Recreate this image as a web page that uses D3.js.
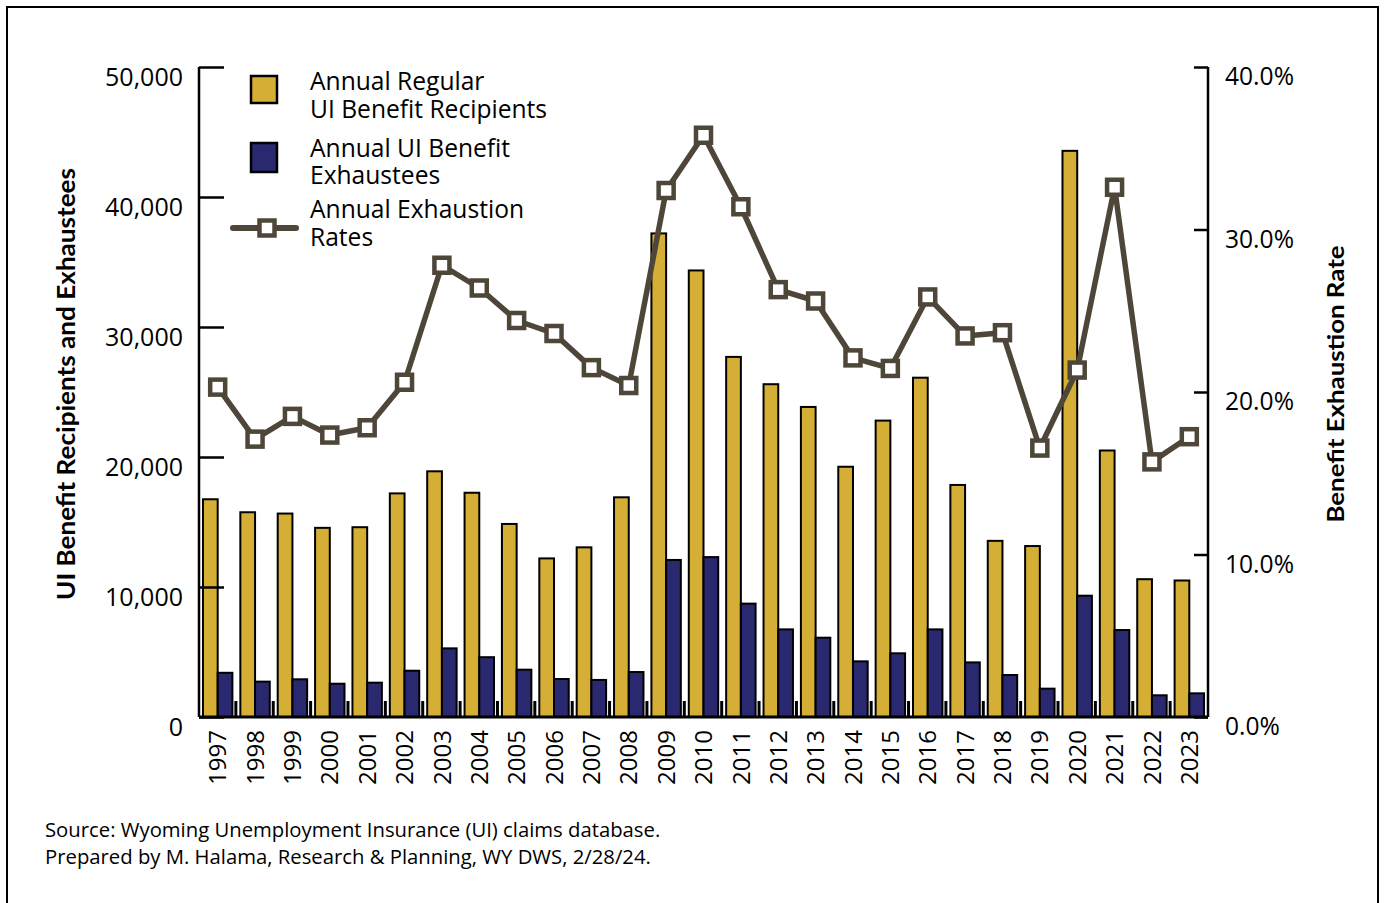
<!DOCTYPE html>
<html>
<head>
<meta charset="utf-8">
<script src="https://d3js.org/d3.v7.min.js"></script>
<style>
body{margin:0;background:#fff;}
text{font-family:"Open Sans",sans-serif;fill:#000;}
</style>
</head>
<body>
<div id="chart"></div>
<script>
// chart data
var years=["1997","1998","1999","2000","2001","2002","2003","2004","2005","2006","2007","2008","2009",
"2010","2011","2012","2013","2014","2015","2016","2017","2018","2019","2020","2021","2022","2023"];
var recipients=[16750,15750,15650,14550,14600,17200,18900,17250,14850,12200,13050,16900,37200,
34350,27700,25600,23850,19250,22800,26100,17850,13550,13150,43550,20500,10600,10500];
var exhaustees=[3400,2720,2900,2560,2640,3560,5280,4600,3640,2920,2850,3460,12080,
12300,8720,6740,6100,4280,4900,6740,4200,3230,2180,9330,6690,1670,1820];
var rates=[20.3,17.1,18.5,17.35,17.8,20.6,27.8,26.4,24.4,23.6,21.5,20.4,32.4,
35.8,31.4,26.3,25.6,22.1,21.45,25.85,23.45,23.65,16.55,21.35,32.6,15.7,17.25];
var leftTicks=[0,10000,20000,30000,40000,50000];
var rightTicks=[0,10,20,30,40];
var legendItems=[["Annual Regular","UI Benefit Recipients"],["Annual UI Benefit","Exhaustees"],["Annual Exhaustion","Rates"]];

var W=1385,H=903;
var gold="#D5AE36",navy="#2A286E",lineCol="#4E4639";
var plotL=199,plotR=1208,plotT=67,plotB=717;

var svg=d3.select("#chart").append("svg").attr("width",W).attr("height",H);

// frame
svg.append("rect").attr("x",7).attr("y",7).attr("width",1371).attr("height",1000)
  .attr("fill","none").attr("stroke","#000").attr("stroke-width",2);

var x0=d3.scaleBand().domain(years).range([plotL,plotR]).padding(0);
var x1=d3.scaleBand().domain(["rec","exh"]).range([0,x0.bandwidth()]).paddingInner(0).paddingOuter(0.27);
var yL=d3.scaleLinear().domain([0,50000]).range([plotB,plotT]);
var yR=d3.scaleLinear().domain([0,40]).range([plotB,plotT]);

// bars
var grp=svg.append("g").selectAll("g").data(years).enter().append("g")
  .attr("transform",function(d){return "translate("+x0(d)+",0)";});
grp.append("rect")
  .attr("x",x1("rec")).attr("width",x1.bandwidth())
  .attr("y",function(d,i){return yL(recipients[i]);})
  .attr("height",function(d,i){return plotB-yL(recipients[i]);})
  .attr("fill",gold).attr("stroke","#000").attr("stroke-width",2);
grp.append("rect")
  .attr("x",x1("exh")).attr("width",x1.bandwidth())
  .attr("y",function(d,i){return yL(exhaustees[i]);})
  .attr("height",function(d,i){return plotB-yL(exhaustees[i]);})
  .attr("fill",navy).attr("stroke","#000").attr("stroke-width",2);

// left axis
var axL=svg.append("g").attr("transform","translate("+plotL+",0)")
  .call(d3.axisLeft(yL).tickValues(leftTicks).tickSize(-25).tickSizeOuter(0).tickPadding(16)
  .tickFormat(d3.format(",")));
axL.selectAll("path,line").attr("stroke","#000").attr("stroke-width",2.5);
axL.select(".domain").attr("d","M0,"+plotT+"V"+plotB);
axL.selectAll("text").attr("dy","0.72em").style("font-size","25px").style("font-family","Open Sans");

// right axis
var axR=svg.append("g").attr("transform","translate("+plotR+",0)")
  .call(d3.axisRight(yR).tickValues(rightTicks).tickSize(-14).tickSizeOuter(0).tickPadding(17)
  .tickFormat(function(d){return d3.format(".1f")(d)+"%";}));
axR.selectAll("path,line").attr("stroke","#000").attr("stroke-width",2.5);
axR.select(".domain").attr("d","M0,"+plotT+"V"+plotB);
axR.selectAll("text").attr("dy","0.72em").style("font-size","24.6px").style("font-family","Open Sans");

// bottom axis line + separators
svg.append("line").attr("x1",plotL).attr("x2",plotR).attr("y1",plotB).attr("y2",plotB)
  .attr("stroke","#000").attr("stroke-width",3);
svg.append("g").selectAll("line").data(years.slice(1)).enter().append("line")
  .attr("x1",function(d){return x0(d)-0.5;}).attr("x2",function(d){return x0(d)-0.5;})
  .attr("y1",plotB-16).attr("y2",plotB)
  .attr("stroke","#000").attr("stroke-width",3);

// year labels
svg.append("g").selectAll("text").data(years).enter().append("text")
  .attr("transform",function(d){return "translate("+(x0(d)+x0.bandwidth()/2)+","+(plotB+13)+") rotate(-90)";})
  .attr("text-anchor","end").attr("dy","0.36em")
  .style("font-size","24px").text(function(d){return d;});

// rate line
var line=d3.line().x(function(d,i){return x0(years[i])+x0.bandwidth()/2;}).y(function(d){return yR(d);});
svg.append("path").datum(rates).attr("d",line).attr("fill","none")
  .attr("stroke",lineCol).attr("stroke-width",5.5).attr("stroke-linejoin","round");
svg.append("g").selectAll("rect").data(rates).enter().append("rect")
  .attr("x",function(d,i){return x0(years[i])+x0.bandwidth()/2-7.5;})
  .attr("y",function(d){return yR(d)-7.5;})
  .attr("width",15).attr("height",15)
  .attr("fill","#fff").attr("stroke",lineCol).attr("stroke-width",4.5);

// axis titles
svg.append("text").attr("transform","translate(75,384) rotate(-90)")
  .attr("text-anchor","middle").attr("textLength",432).attr("lengthAdjust","spacingAndGlyphs")
  .style("font-size","24px").style("font-weight","bold").style("font-family","Lato")
  .text("UI Benefit Recipients and Exhaustees");
svg.append("text").attr("transform","translate(1344,384) rotate(-90)")
  .attr("text-anchor","middle").attr("textLength",277).attr("lengthAdjust","spacingAndGlyphs")
  .style("font-size","23px").style("font-weight","bold").style("font-family","Lato")
  .text("Benefit Exhaustion Rate");

// legend
var lg=svg.append("g");
lg.append("rect").attr("x",251).attr("y",76).attr("width",26).attr("height",27)
  .attr("fill",gold).attr("stroke","#000").attr("stroke-width",2.5);
lg.append("rect").attr("x",251).attr("y",143).attr("width",26).attr("height",29)
  .attr("fill",navy).attr("stroke","#000").attr("stroke-width",2.5);
lg.append("line").attr("x1",233).attr("x2",296).attr("y1",228).attr("y2",228)
  .attr("stroke",lineCol).attr("stroke-width",6).attr("stroke-linecap","round");
lg.append("rect").attr("x",259.5).attr("y",220.5).attr("width",15).attr("height",15)
  .attr("fill","#fff").attr("stroke",lineCol).attr("stroke-width",4.5);
var baseY=[90,156.5,218];
legendItems.forEach(function(item,k){
  item.forEach(function(s,j){
    lg.append("text").attr("x",310).attr("y",baseY[k]+j*27.5)
      .style("font-size","24.6px").text(s);
  });
});

// source note
svg.append("text").attr("x",45).attr("y",837).style("font-size","20.3px")
  .text("Source: Wyoming Unemployment Insurance (UI) claims database.");
svg.append("text").attr("x",45).attr("y",864).style("font-size","20.3px")
  .text("Prepared by M. Halama, Research & Planning, WY DWS, 2/28/24.");
</script>
</body>
</html>
